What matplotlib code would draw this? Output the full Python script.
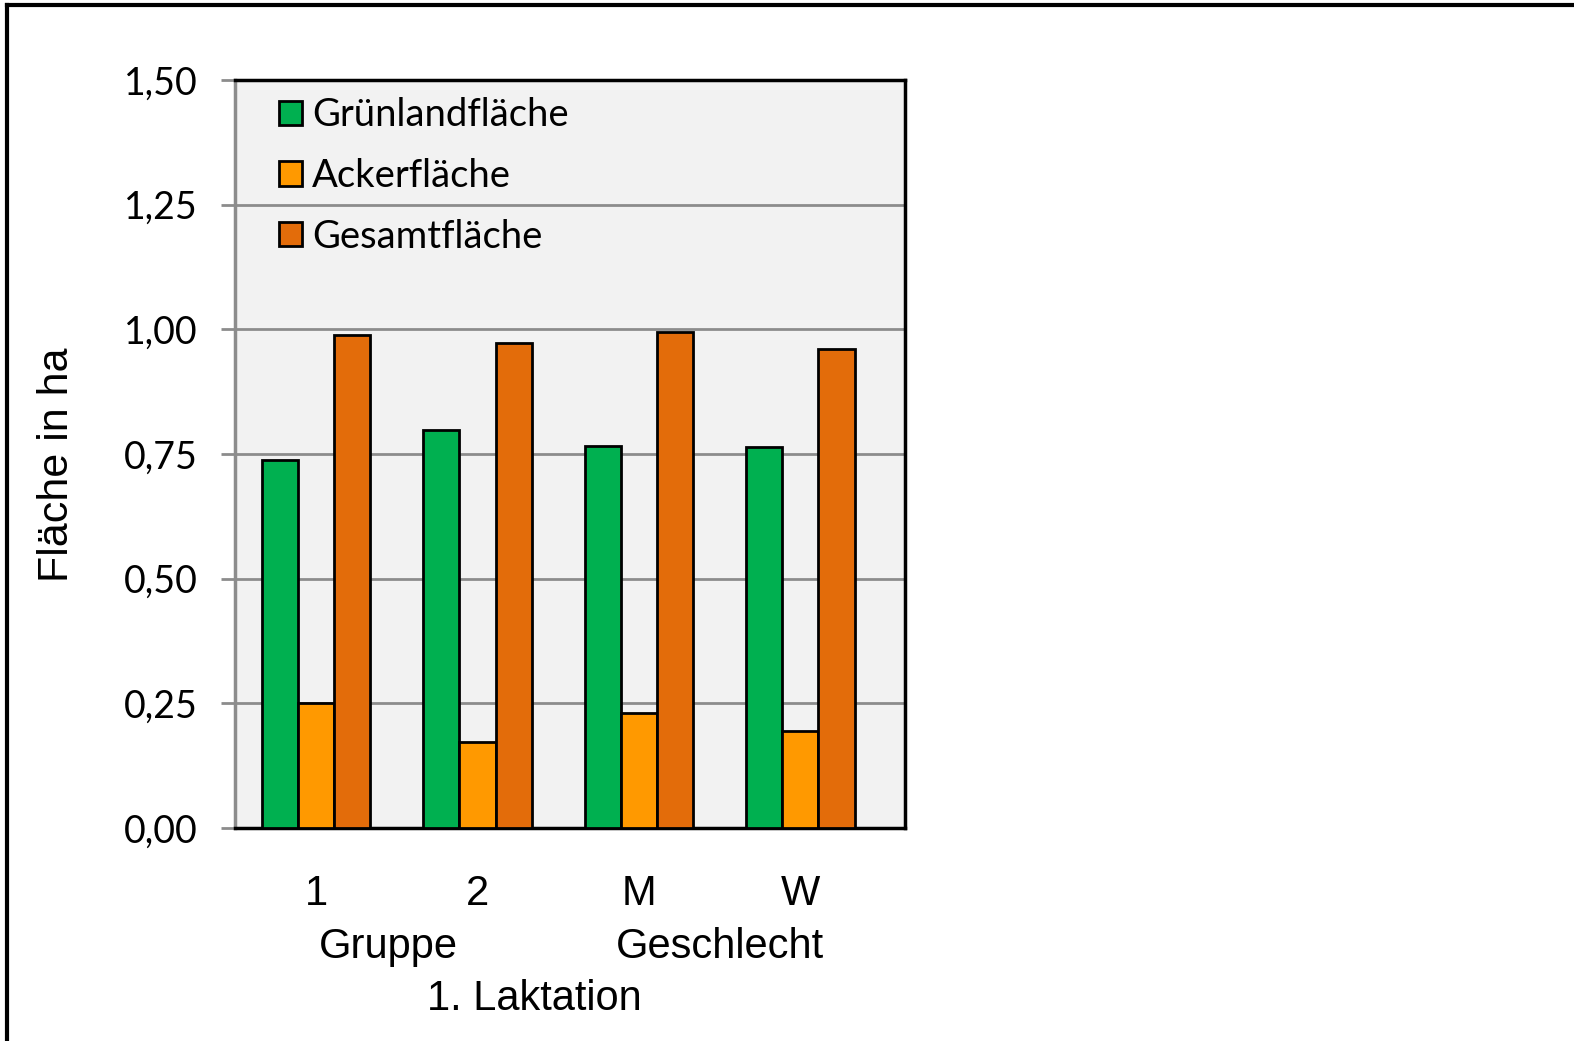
import numpy as np
import matplotlib as mpl
import matplotlib.pyplot as plt
from matplotlib.lines import Line2D
from matplotlib.ticker import FuncFormatter

categories = ["1", "2", "M", "W"]
groups = ["Gruppe", "Geschlecht"]
outer_label = "1. Laktation"
series = ["Grünlandfläche", "Ackerfläche", "Gesamtfläche"]
gruenland = [0.737, 0.799, 0.767, 0.763]
acker = [0.250, 0.173, 0.230, 0.195]
gesamt = [0.989, 0.972, 0.995, 0.960]
colors = ["#00b050", "#ff9900", "#e36c0a"]

fig = plt.figure(figsize=(15.74, 10.41), dpi=100)
ax = fig.add_axes([0.1493, 0.2046, 0.4257, 0.7186])
ax.set_facecolor("#f2f2f2")

x = np.arange(len(categories))
w = 0.224
for i, (vals, name, c) in enumerate(zip([gruenland, acker, gesamt], series, colors)):
    ax.bar(x + (i - 1) * w, vals, width=w, color=c, edgecolor="black",
           linewidth=2, label=name, zorder=3)

ax.set_ylim(0, 1.5)
ax.set_xlim(-0.503, 3.649)
ax.set_yticks(np.arange(0, 1.51, 0.25))
ax.yaxis.set_major_formatter(FuncFormatter(lambda v, p: f"{v:.2f}".replace(".", ",")))
ax.grid(axis="y", color="#8c8c8c", linewidth=2, zorder=0)
ax.set_axisbelow(True)

ax.tick_params(axis="y", direction="out", length=10, width=2, color="#8c8c8c",
               pad=17, labelsize=27)
for lab in ax.get_yticklabels():
    lab.set_fontfamily("Lato")
ax.set_xticks(x)
ax.set_xticklabels(categories, fontfamily="Liberation Sans", fontsize=30)
ax.tick_params(axis="x", length=0, pad=33)

ax.spines["left"].set_color("#8c8c8c")
for s in ("left", "right", "top", "bottom"):
    ax.spines[s].set_linewidth(2.5)

ax.set_ylabel("Fläche in ha", fontfamily="Liberation Sans", fontsize=31)
ax.yaxis.label.set_va("center")
ax.yaxis.set_label_coords(-0.266, 0.486)

# second and third level of the category axis
tr = mpl.transforms.blended_transform_factory(ax.transData, ax.transAxes)
ax.text(0.45, -0.159, groups[0], transform=tr, ha="center", va="center",
        fontfamily="Liberation Sans", fontsize=30)
ax.text(2.5, -0.159, groups[1], transform=tr, ha="center", va="center",
        fontfamily="Liberation Sans", fontsize=30)
ax.text(1.35, -0.229, outer_label, transform=tr, ha="center", va="center",
        fontfamily="Liberation Sans", fontsize=30)

leg = ax.legend(loc="upper left", bbox_to_anchor=(0.015, 1.023), frameon=False,
                prop={"family": "Lato", "size": 27.5}, handlelength=0.6,
                handleheight=0.6, handletextpad=0.25, labelspacing=0.65)

# frame around the chart area (only top and left edges)
fig.add_artist(Line2D([7 / 1574, 1], [1 - 5 / 1041, 1 - 5 / 1041], color="black",
                      linewidth=3, transform=fig.transFigure))
fig.add_artist(Line2D([7 / 1574, 7 / 1574], [0, 1 - 5 / 1041], color="black",
                      linewidth=3, transform=fig.transFigure))

fig.savefig("out.png", dpi=100)
